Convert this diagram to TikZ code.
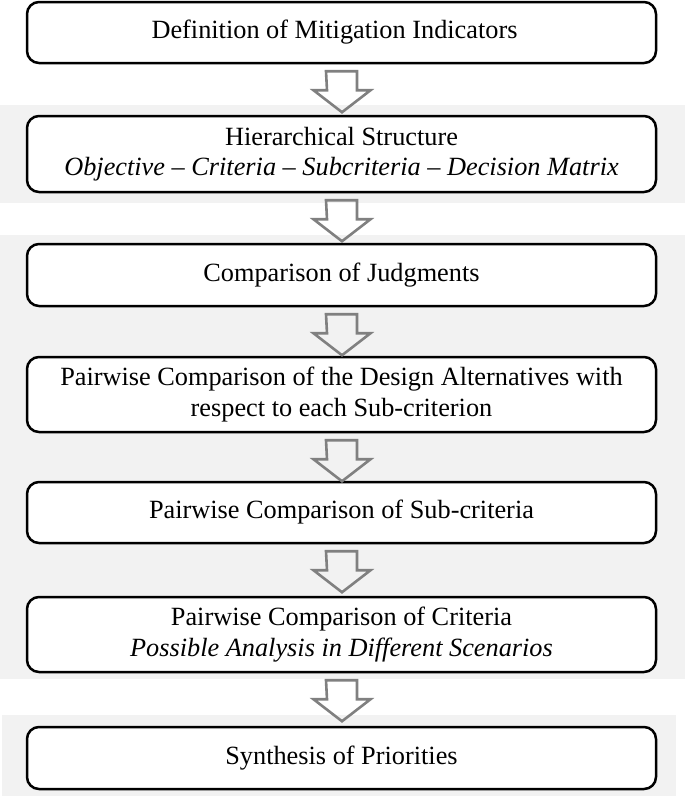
\documentclass[tikz,border=0pt]{standalone}
\usepackage{fontspec}
\setmainfont{Liberation Serif}
\usetikzlibrary{calc}
\begin{document}
\begin{tikzpicture}[x=1pt,y=-1pt,
  stepbox/.style={draw=black, line width=2.5pt, rounded corners=12pt, fill=white,
    minimum width=629pt, align=center, inner sep=0pt,
    font=\fontsize{26.3}{30.5}\selectfont},
  band/.style={fill=bandgray, draw=none},
  flowarr/.style={draw=arrowgray, line width=2.6pt, line join=miter}]
\definecolor{bandgray}{HTML}{F2F2F2}
\definecolor{arrowgray}{HTML}{808080}
\useasboundingbox (0,0) rectangle (685,803);
% background bands
\fill[bandgray] (0,105) rectangle (685,203);
\fill[bandgray] (0,235) rectangle (685,679);
\fill[bandgray] (2,715) rectangle (676,796);
% boxes
\node[stepbox, minimum height=61pt] (b1) at (341.5,32.5) {\hspace*{-14pt}Definition of Mitigation Indicators};
\node[stepbox, minimum height=76pt] (b2) at (341.5,154) {Hierarchical Structure\\\textit{Objective -- Criteria -- Subcriteria -- Decision Matrix}};
\node[stepbox, minimum height=62pt] (b3) at (341.5,275) {Comparison of Judgments};
\node[stepbox, minimum height=75pt] (b4) at (341.5,394.5) {Pairwise Comparison of the Design Alternatives with\\respect to each Sub-criterion};
\node[stepbox, minimum height=61pt] (b5) at (341.5,512.5) {Pairwise Comparison of Sub-criteria};
\node[stepbox, minimum height=75pt] (b6) at (341.5,634.5) {Pairwise Comparison of Criteria\\\textit{Possible Analysis in Different Scenarios}};
\node[stepbox, minimum height=62pt] (b7) at (341.5,758) {Synthesis of Priorities};
% block arrows
\newcommand\flowarrow[1]{%
  \draw[flowarr] ($(#1.south)+(-15.5,7)$) coordinate (tmp) -- ++(31,0) -- ++(0,19) -- ++(13.5,0)
    -- ++(-28.5,22) -- ++(-28.5,-22) -- ++(13.5,0) -- cycle;}
\flowarrow{b1}
\flowarrow{b2}
\flowarrow{b3}
\flowarrow{b4}
\flowarrow{b5}
\flowarrow{b6}
\end{tikzpicture}
\end{document}
